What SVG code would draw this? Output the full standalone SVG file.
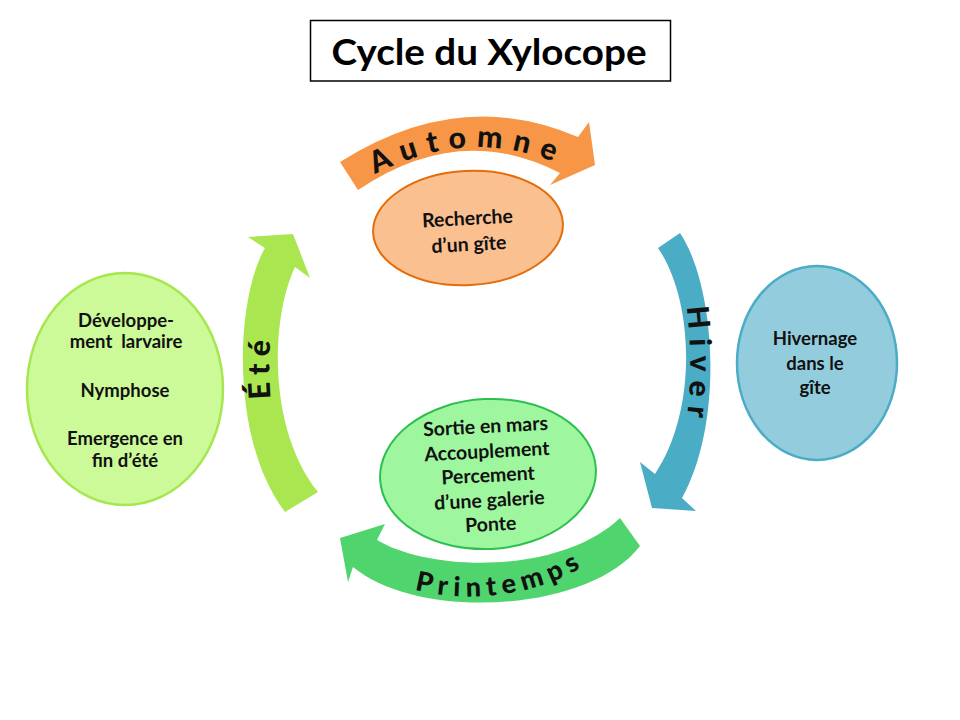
<svg xmlns="http://www.w3.org/2000/svg" width="960" height="720" viewBox="0 0 960 720">
<style>
.t{font-family:Lato,"Open Sans","Liberation Sans",sans-serif;font-weight:bold;fill:#111;text-anchor:middle;font-size:18.5px}
.b{font-size:19.5px}
.s{font-family:Lato,"Open Sans","Liberation Sans",sans-serif;font-weight:900;fill:#111;font-size:30px;letter-spacing:10px}
</style>
<defs>
<path id="pA" d="M355,186 Q465,117 575,171"/>
<path id="pH" d="M672,255 C695,300 695,400 678,470"/>
<path id="pP" d="M390,580 C440,606 540,604 600,554"/>
<path id="pE" d="M291,480 C263,420 263,330 286,260"/>
</defs>
<rect width="960" height="720" fill="#fff"/>
<g id="title">
<rect x="310.5" y="20.5" width="360" height="60.5" fill="#fff" stroke="#000" stroke-width="1.5"/>
<text x="489" y="65" font-family="Lato,'Open Sans','Liberation Sans',sans-serif" font-weight="bold" font-size="37" text-anchor="middle" textLength="315" lengthAdjust="spacingAndGlyphs" fill="#000">Cycle du Xylocope</text>
</g>
<g id="connectors">
<g id="arrow-automne">
<path d="M340,162 Q460,86 578,137 L589,122 L595,165 L550,185 L560,173 Q460,121 358,190 Z" fill="#f79646"/>
<text class="s"><textPath href="#pA" startOffset="52%" text-anchor="middle">Automne</textPath></text>
</g>
<g id="arrow-hiver">
<path d="M680,233 C715,285 725,420 682,498 L696,511 L652,508 L640,462 L655,474 C698,410 694,300 658,248 Z" fill="#4bacc6"/>
<text class="s" style="letter-spacing:9px"><textPath href="#pH" startOffset="52%" text-anchor="middle">Hiver</textPath></text>
</g>
<g id="arrow-printemps">
<path d="M640,546 C590,612 420,622 353,567 L348,582 L340,538 L385,524 L377,540 C430,572 560,575 620,518 Z" fill="#50d46e"/>
<text class="s" style="font-size:27px;letter-spacing:6px"><textPath href="#pP" startOffset="52%" text-anchor="middle">Printemps</textPath></text>
</g>
<g id="arrow-ete">
<path d="M265,248 C235,300 230,440 285,512 L318,492 C268,430 270,320 295,267 L310,278 L293,234 L248,237 Z" fill="#aae64f"/>
<text class="s" style="letter-spacing:7px"><textPath href="#pE" startOffset="52%" text-anchor="middle">Été</textPath></text>
</g>
</g>
<g id="node-automne" transform="rotate(-3 468 228)">
<ellipse cx="468" cy="228" rx="95" ry="57" fill="#fac08f" stroke="#e46c0a" stroke-width="2"/>
<text class="t b" x="468" y="225">Recherche</text>
<text class="t b" x="468" y="251">d’un gîte</text>
</g>
<g id="node-hiver">
<ellipse cx="817" cy="363" rx="80" ry="97" fill="#93cddd" stroke="#4bacc6" stroke-width="2.5"/>
<text class="t" x="815" y="345">Hivernage</text>
<text class="t" x="815" y="370">dans le</text>
<text class="t" x="815" y="394">gîte</text>
</g>
<g id="node-printemps" transform="rotate(-3 488 474)">
<ellipse cx="488" cy="474" rx="108" ry="75" fill="#9ef79e" stroke="#2dbf50" stroke-width="2"/>
<text class="t b" x="488" y="433">Sortie en mars</text>
<text class="t b" x="488" y="458">Accouplement</text>
<text class="t b" x="488" y="482">Percement</text>
<text class="t b" x="488" y="507">d’une galerie</text>
<text class="t b" x="488" y="531">Ponte</text>
</g>
<g id="node-ete">
<ellipse cx="125" cy="389" rx="98" ry="116" fill="#ccfa98" stroke="#a6e64e" stroke-width="2.5"/>
<text class="t" x="126" y="327">Développe-</text>
<text class="t" x="126" y="348" xml:space="preserve">ment  larvaire</text>
<text class="t" x="125" y="397">Nymphose</text>
<text class="t" x="125" y="445">Emergence en</text>
<text class="t" x="125" y="467">fin d’été</text>
</g>
</svg>
